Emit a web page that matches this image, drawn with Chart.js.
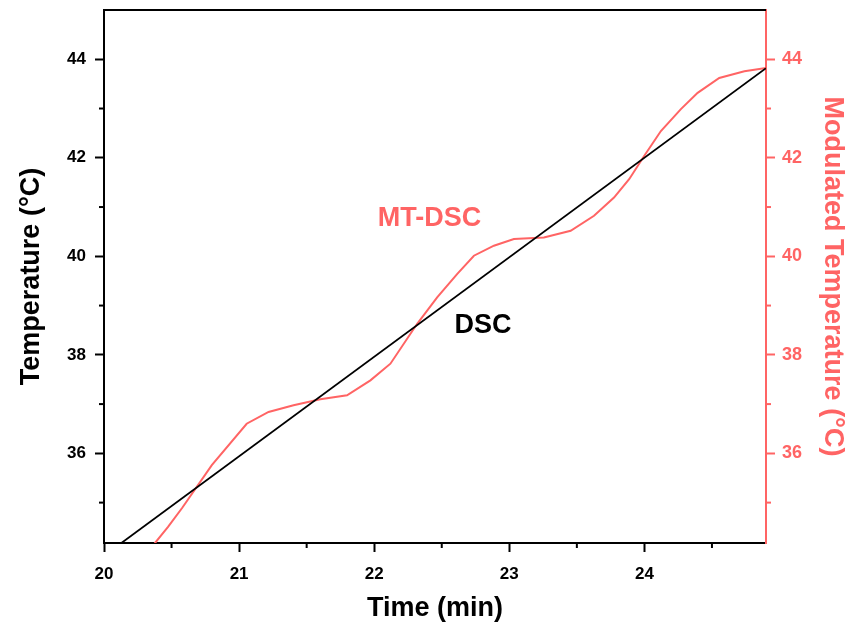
<!DOCTYPE html>
<html>
<head>
<meta charset="utf-8">
<script src="https://cdn.jsdelivr.net/npm/chart.js@4.4.1/dist/chart.umd.min.js"></script>
<style>
  html, body { margin: 0; padding: 0; background: #fff; }
</style>
</head>
<body>
<canvas id="myChart" width="846" height="625"></canvas>
<script>
// DSC: linear heating ramp (start / end points)
const dscTime = [20, 24.9];
const dscTemp = [33.92, 43.82];

// MT-DSC: modulated temperature
const mtTime = [20.304, 20.378, 20.474, 20.578, 20.798, 21.056, 21.218, 21.403, 21.601, 21.799,
  21.972, 22.120, 22.318, 22.466, 22.615, 22.738, 22.886, 23.034, 23.256, 23.454,
  23.627, 23.775, 23.887, 23.998, 24.122, 24.270, 24.394, 24.554, 24.740, 24.900];
const mtTemp = [33.889, 34.182, 34.506, 34.891, 35.761, 36.601, 36.840, 36.976, 37.097, 37.178,
  37.482, 37.820, 38.630, 39.168, 39.642, 40.012, 40.215, 40.350, 40.383, 40.518,
  40.822, 41.192, 41.565, 42.036, 42.543, 42.988, 43.318, 43.621, 43.757, 43.824];

// axes
const xMin = 20, xMax = 24.9, xStep = 1;
const yMin = 34.18, yMax = 45, yStep = 2;
const xMinor = [20.5, 21.5, 22.5, 23.5, 24.5];
const yMinor = [35, 37, 39, 41, 43];

// in-plot labels (data coords)
const noteText = ["MT-DSC", "DSC"];
const noteX = [22.409, 22.806];
const noteY = [40.771, 38.595];

const RED = "#ff6464";
const FONT = "'Liberation Sans', Arial, sans-serif";

const extras = {
  id: "extras",
  afterDraw(chart) {
    const { ctx, chartArea: a, scales } = chart;
    ctx.save();
    ctx.lineWidth = 2;
    const seg = (x1, y1, x2, y2, c) => {
      ctx.strokeStyle = c;
      ctx.beginPath();
      ctx.moveTo(x1, y1);
      ctx.lineTo(x2, y2);
      ctx.stroke();
    };
    // top frame
    seg(a.left - 1, a.top, a.right, a.top, "#000");
    // minor ticks
    xMinor.forEach(v => {
      const px = scales.x.getPixelForValue(v);
      seg(px, a.bottom, px, a.bottom + 5, "#000");
    });
    yMinor.forEach(v => {
      const py = scales.y.getPixelForValue(v);
      seg(a.left - 5, py, a.left, py, "#000");
      const py2 = scales.y2.getPixelForValue(v);
      seg(a.right, py2, a.right + 5, py2, RED);
    });
    // labels
    ctx.font = "bold 27px " + FONT;
    ctx.textAlign = "center";
    ctx.textBaseline = "middle";
    noteText.forEach((t, i) => {
      ctx.fillStyle = i === 0 ? RED : "#000";
      ctx.fillText(t, scales.x.getPixelForValue(noteX[i]), scales.y.getPixelForValue(noteY[i]));
    });
    ctx.restore();
  }
};

const fitY = w => s => {
  s.width = w;
  s.paddingTop = 0;
  s.paddingBottom = 0;
};

const ctx = document.getElementById("myChart");

new Chart(ctx, {
  type: "line",
  data: {
    datasets: [
      {
        label: "DSC",
        data: dscTime.map((t, i) => ({ x: t, y: dscTemp[i] })),
        borderColor: "#000",
        borderWidth: 1.8,
        pointRadius: 0,
        yAxisID: "y",
      },
      {
        label: "MT-DSC",
        data: mtTime.map((t, i) => ({ x: t, y: mtTemp[i] })),
        borderColor: RED,
        borderWidth: 2,
        pointRadius: 0,
        yAxisID: "y2",
      },
    ],
  },
  options: {
    responsive: false,
    animation: false,
    devicePixelRatio: 1,
    layout: { padding: { top: 10, left: 0, right: 0, bottom: 0 } },
    plugins: {
      legend: { display: false },
      tooltip: { enabled: false },
    },
    scales: {
      x: {
        type: "linear",
        position: "bottom",
        min: xMin,
        max: xMax,
        afterFit: s => { s.height = 82; s.paddingLeft = 0; s.paddingRight = 0; },
        ticks: {
          stepSize: xStep,
          includeBounds: false,
          color: "#000",
          padding: 12,
          font: { family: FONT, size: 17, weight: "bold" },
        },
        grid: { drawOnChartArea: false, tickLength: 9, tickWidth: 2, tickColor: "#000" },
        border: { color: "#000", width: 2 },
        title: {
          display: true,
          text: "Time (min)",
          color: "#000",
          font: { family: FONT, size: 27, weight: "bold", lineHeight: 1 },
          padding: { top: 0, bottom: 2.5 },
        },
      },
      y: {
        type: "linear",
        position: "left",
        min: yMin,
        max: yMax,
        afterFit: fitY(104),
        ticks: {
          stepSize: yStep,
          includeBounds: false,
          color: "#000",
          padding: 9,
          font: { family: FONT, size: 17, weight: "bold" },
        },
        grid: { drawOnChartArea: false, tickLength: 9, tickWidth: 2, tickColor: "#000" },
        border: { color: "#000", width: 2 },
        title: {
          display: true,
          text: "Temperature (°C)",
          color: "#000",
          font: { family: FONT, size: 27, weight: "bold", lineHeight: 1 },
          padding: { top: 18, bottom: 0 },
        },
      },
      y2: {
        type: "linear",
        position: "right",
        min: yMin,
        max: yMax,
        afterFit: fitY(80),
        ticks: {
          stepSize: yStep,
          includeBounds: false,
          color: RED,
          padding: 7,
          font: { family: FONT, size: 18, weight: "bold" },
        },
        grid: { drawOnChartArea: false, tickLength: 9, tickWidth: 2, tickColor: RED },
        border: { color: RED, width: 2 },
        title: {
          display: true,
          text: "Modulated Temperature (°C)",
          color: RED,
          font: { family: FONT, size: 27, weight: "bold", lineHeight: 1 },
          padding: { top: 0, bottom: 0 },
        },
      },
    },
  },
  plugins: [extras],
});
</script>
</body>
</html>
